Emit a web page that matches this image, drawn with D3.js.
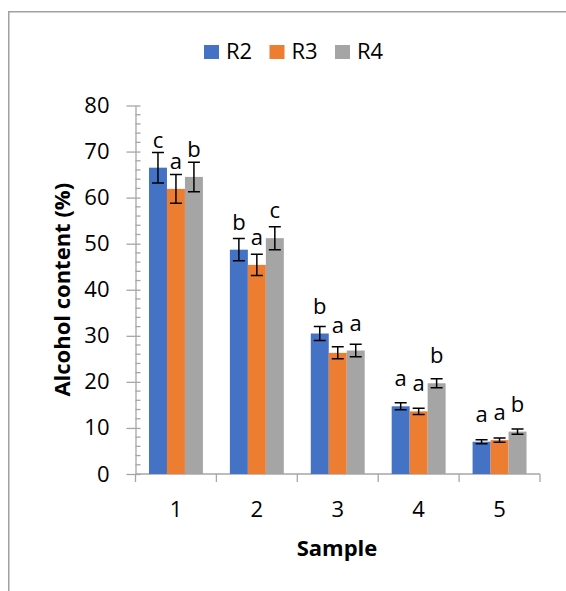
<!DOCTYPE html>
<html>
<head>
<meta charset="utf-8">
<script src="https://cdn.jsdelivr.net/npm/d3@7"></script>
<style>
    body { margin: 0; background: #fff; }
    svg { display: block; font-family: "Open Sans", "Noto Sans", sans-serif; }
</style>
</head>
<body>
<div id="chart"></div>
<script>
// chart values
const samples = ['1', '2', '3', '4', '5'];
const seriesNames = ['R2', 'R3', 'R4'];
const r2Values = [66.5, 48.7, 30.5, 14.7, 7.0];
const r3Values = [61.9, 45.4, 26.3, 13.6, 7.35];
const r4Values = [64.5, 51.2, 26.8, 19.7, 9.2];
const r2Errors = [3.3, 2.4, 1.5, 0.75, 0.45];
const r3Errors = [3.1, 2.3, 1.3, 0.7, 0.45];
const r4Errors = [3.2, 2.5, 1.35, 1.0, 0.55];
const r2Letters = ['c', 'b', 'b', 'a', 'a'];
const r3Letters = ['a', 'a', 'a', 'a', 'a'];
const r4Letters = ['b', 'c', 'a', 'b', 'b'];
const yTicks = [0, 10, 20, 30, 40, 50, 60, 70, 80];

const colors = ['#4472C4', '#ED7D31', '#A5A5A5'];
const valueSets = [r2Values, r3Values, r4Values];
const errorSets = [r2Errors, r3Errors, r4Errors];
const letterSets = [r2Letters, r3Letters, r4Letters];

// flat table: one row per bar
const rows = [];
samples.forEach((s, i) => {
    seriesNames.forEach((name, j) => {
        rows.push({sample: s, series: name, value: valueSets[j][i], err: errorSets[j][i], letter: letterSets[j][i]});
    });
});

const config = {
    width: 566,
    height: 591,
    margin: {top: 105.5, right: 26, bottom: 117, left: 135.5},
    axisColor: '#a6a6a6',
    fontSize: 22
};

const innerW = config.width - config.margin.left - config.margin.right;
const innerH = config.height - config.margin.top - config.margin.bottom;

const svg = d3.select('#chart').append('svg')
    .attr('width', config.width)
    .attr('height', config.height);

svg.append('rect')
    .attr('width', config.width)
    .attr('height', config.height)
    .attr('fill', '#fff');

// outer chart frame (only top and left edges are visible)
svg.append('path')
    .attr('d', `M8.75,${config.height} V11.75 H${config.width}`)
    .attr('fill', 'none')
    .attr('stroke', '#a0a0a0')
    .attr('stroke-width', 1.5);

const chart = svg.append('g')
    .attr('transform', `translate(${config.margin.left},${config.margin.top})`);

// scales
const x0 = d3.scaleBand()
    .domain(samples)
    .range([0, innerW])
    .paddingInner(1 / 3)
    .paddingOuter(1 / 6);
const x1 = d3.scaleBand()
    .domain(seriesNames)
    .range([0, x0.bandwidth()]);
const y = d3.scaleLinear()
    .domain([0, 80])
    .range([innerH, 0]);
const color = d3.scaleOrdinal().domain(seriesNames).range(colors);

// y axis: major ticks cross the line, minor ticks every 2 units on the inside
const yAxis = d3.axisLeft(y)
    .tickValues(yTicks)
    .tickSize(9)
    .tickPadding(17)
    .tickSizeOuter(0);
const yAxisG = chart.append('g').call(yAxis);
yAxisG.select('.domain').attr('stroke', config.axisColor).attr('stroke-width', 1.3);
yAxisG.selectAll('.tick line')
    .attr('x2', 5)
    .attr('x1', -9)
    .attr('stroke', config.axisColor)
    .attr('stroke-width', 1.3);
yAxisG.selectAll('.tick text')
    .attr('font-size', config.fontSize)
    .attr('font-family', '"Open Sans", sans-serif')
    .attr('fill', '#000');

const minorTicks = d3.range(0, 81, 2).filter(v => v % 10 !== 0);
chart.append('g').selectAll('line')
    .data(minorTicks)
    .join('line')
    .attr('x1', 0)
    .attr('x2', 5)
    .attr('y1', d => y(d))
    .attr('y2', d => y(d))
    .attr('stroke', config.axisColor)
    .attr('stroke-width', 1.3);

// x axis: ticks sit on the category boundaries
const xAxisG = chart.append('g').attr('transform', `translate(0,${innerH})`);
xAxisG.append('line')
    .attr('x1', 0)
    .attr('x2', innerW)
    .attr('stroke', config.axisColor)
    .attr('stroke-width', 1.3);
xAxisG.selectAll('.boundary')
    .data(d3.range(samples.length + 1))
    .join('line')
    .attr('class', 'boundary')
    .attr('x1', i => i * x0.step())
    .attr('x2', i => i * x0.step())
    .attr('y1', 0)
    .attr('y2', 8)
    .attr('stroke', config.axisColor)
    .attr('stroke-width', 1.3);
xAxisG.selectAll('.xlabel')
    .data(samples)
    .join('text')
    .attr('class', 'xlabel')
    .attr('x', d => x0(d) + x0.bandwidth() / 2)
    .attr('y', 43)
    .attr('text-anchor', 'middle')
    .attr('font-size', config.fontSize)
    .text(d => d);

// bars
const groups = chart.selectAll('.sample-group')
    .data(samples)
    .join('g')
    .attr('class', 'sample-group')
    .attr('transform', d => `translate(${x0(d)},0)`);

const bar = groups.selectAll('.bar')
    .data(s => rows.filter(r => r.sample === s))
    .join('g')
    .attr('class', 'bar');

bar.append('rect')
    .attr('x', d => x1(d.series))
    .attr('y', d => y(d.value))
    .attr('width', x1.bandwidth())
    .attr('height', d => innerH - y(d.value))
    .attr('fill', d => color(d.series));

// error bars
const cap = 6;
bar.append('path')
    .attr('d', d => {
        const cx = x1(d.series) + x1.bandwidth() / 2;
        const top = y(d.value + d.err);
        const bot = y(d.value - d.err);
        return `M${cx},${top}V${bot}M${cx - cap},${top}H${cx + cap}M${cx - cap},${bot}H${cx + cap}`;
    })
    .attr('fill', 'none')
    .attr('stroke', '#000')
    .attr('stroke-width', 1.5);

// significance letters
bar.append('text')
    .attr('x', d => x1(d.series) + x1.bandwidth() / 2)
    .attr('y', d => y(d.value) - 20)
    .attr('text-anchor', 'middle')
    .attr('font-size', config.fontSize)
    .text(d => d.letter);

// axis titles
svg.append('text')
    .attr('transform', `translate(70,${config.margin.top + innerH / 2}) rotate(-90)`)
    .attr('text-anchor', 'middle')
    .attr('font-size', config.fontSize)
    .attr('font-weight', 'bold')
    .text('Alcohol content (%)');

svg.append('text')
    .attr('x', 337)
    .attr('y', 556)
    .attr('text-anchor', 'middle')
    .attr('font-size', config.fontSize)
    .attr('font-weight', 'bold')
    .text('Sample');

// legend
const legend = svg.append('g')
    .attr('transform', 'translate(204,45)');
const legendItem = legend.selectAll('.legend-item')
    .data(seriesNames)
    .join('g')
    .attr('class', 'legend-item')
    .attr('transform', (d, i) => `translate(${i * 65.5},0)`);
legendItem.append('rect')
    .attr('width', 15)
    .attr('height', 14)
    .attr('fill', d => color(d));
legendItem.append('text')
    .attr('x', 22)
    .attr('y', 14)
    .attr('font-size', config.fontSize)
    .text(d => d);
</script>
</body>
</html>
